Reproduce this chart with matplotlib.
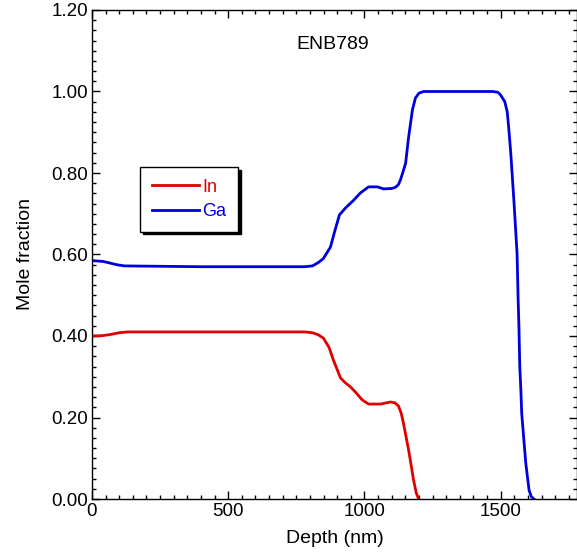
import matplotlib
matplotlib.use('Agg')
import matplotlib.pyplot as plt
from matplotlib.ticker import MultipleLocator, FormatStrFormatter

plt.rcParams['font.family'] = ['Liberation Sans', 'DejaVu Sans']

# In profile
in_depth = [0, 40, 70, 100, 130, 400, 780, 809, 830, 849, 870, 886, 912, 930, 949, 970, 992, 1015,
            1059, 1080, 1096, 1112, 1125, 1135, 1143, 1152, 1162, 1172, 1180, 1190, 1199]
in_frac = [0.400, 0.401, 0.404, 0.408, 0.410, 0.410, 0.410, 0.408, 0.403, 0.395, 0.372, 0.341, 0.297,
           0.285, 0.275, 0.260, 0.243, 0.233, 0.233, 0.236, 0.238, 0.236, 0.228, 0.210, 0.186, 0.155,
           0.120, 0.080, 0.047, 0.015, 0.0]

# Ga profile
ga_depth = [0, 40, 60, 90, 120, 400, 780, 809, 830, 849, 875, 890, 908, 930, 960, 985, 1015, 1048,
            1070, 1100, 1114, 1125, 1132, 1140, 1151, 1162, 1176, 1187, 1200, 1217, 1471, 1490,
            1500, 1515, 1524, 1530, 1537, 1549, 1560, 1564, 1567, 1570, 1574, 1577, 1584, 1592,
            1604, 1612, 1622]
ga_frac = [0.585, 0.583, 0.580, 0.575, 0.572, 0.570, 0.570, 0.572, 0.580, 0.590, 0.618, 0.655, 0.697,
           0.714, 0.733, 0.751, 0.766, 0.766, 0.761, 0.762, 0.765, 0.772, 0.783, 0.800, 0.824, 0.888,
           0.955, 0.984, 0.996, 1.000, 1.000, 0.998, 0.991, 0.975, 0.950, 0.906, 0.848, 0.726, 0.603,
           0.488, 0.420, 0.325, 0.267, 0.211, 0.153, 0.088, 0.022, 0.006, 0.0]

fig = plt.figure(figsize=(5.77, 5.55), dpi=100)
ax = fig.add_axes([92/577, 56/555, 485/577, 489/555])

ax.plot(in_depth, in_frac, color='#e00000', lw=2, label='In')
ax.plot(ga_depth, ga_frac, color='#0000dd', lw=2, label='Ga')

ax.set_xlim(0, 1780)
ax.set_ylim(0, 1.2)
ax.xaxis.set_major_locator(MultipleLocator(500))
ax.xaxis.set_minor_locator(MultipleLocator(50))
ax.yaxis.set_major_locator(MultipleLocator(0.2))
ax.yaxis.set_minor_locator(MultipleLocator(0.025))
ax.yaxis.set_major_formatter(FormatStrFormatter('%.2f'))
ax.tick_params(which='both', direction='in', top=True, right=True, labelsize=13.5, width=1, pad=3)
ax.tick_params(which='major', length=6)
ax.tick_params(which='minor', length=3)
for s in ax.spines.values():
    s.set_linewidth(1)

ax.set_xlabel('Depth (nm)', fontsize=14, labelpad=7)
ax.set_ylabel('Mole fraction', fontsize=14, labelpad=12)
ax.text(0.497, 0.93, 'ENB789', transform=ax.transAxes, ha='center', va='center', fontsize=14)

leg = ax.legend(loc='upper left', bbox_to_anchor=(0.099, 0.679), borderaxespad=0, frameon=True,
                fancybox=False, shadow={'color': 'black', 'alpha': 1}, edgecolor='black', fontsize=13,
                handlelength=2.6, borderpad=0.65, labelspacing=0.4, handletextpad=0.2, framealpha=1)
leg.get_frame().set_linewidth(1)
for t, c in zip(leg.get_texts(), ['#e00000', '#0000dd']):
    t.set_color(c)

fig.savefig('out.png', dpi=100)
